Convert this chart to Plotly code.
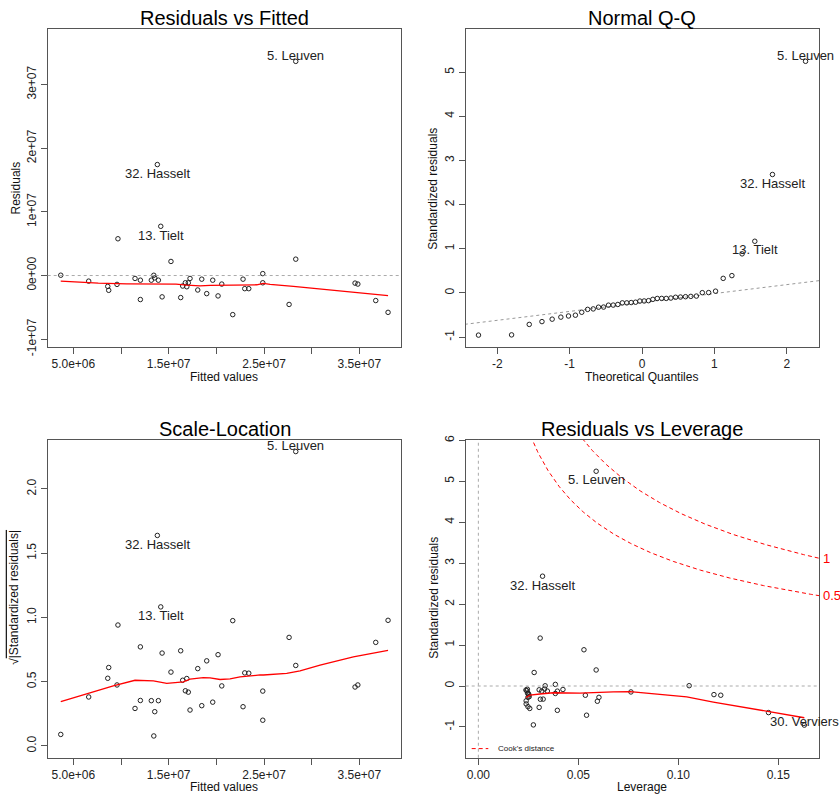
import numpy as np
import plotly.graph_objects as go
from statistics import NormalDist

W, H = 840, 809
FONT = "Liberation Sans, Arial, sans-serif"

# ---- per-observation diagnostics of the fitted model (42 municipalities) ----
fitted_values = np.array([
    3.68, 6.61, 8.61, 8.71, 9.58, 9.68, 11.47, 12.03, 12.03, 13.18,
    13.44, 13.54, 13.92, 13.81, 14.17, 14.31, 15.24, 16.26, 16.47, 16.75,
    16.90, 17.06, 17.24, 18.05, 18.47, 18.99, 19.62, 20.18, 20.57, 21.72,
    22.80, 22.98, 23.40, 24.87, 24.87, 27.63, 28.33, 28.33, 34.55, 34.84,
    36.72, 38.01]) * 1e6

residuals = np.array([
    0.05, -0.88, -1.70, -2.32, -1.39, 5.77, -0.46, -0.73, -3.77, -0.73,
    0.04, -0.37, -0.73, 17.42, 7.73, -3.35, 2.21, -3.46, -1.65, -1.14,
    -1.76, -1.14, -0.46, -2.27, -0.57, -2.84, -0.73, -3.20, -1.34, -6.14,
    -0.57, -2.06, -2.06, 0.30, -1.14, -4.54, 33.62, 2.57, -1.19, -1.34,
    -3.93, -5.78]) * 1e6

std_residuals = np.array([
    0.008, -0.145, -0.277, -0.372, -0.225, 0.885, -0.085, -0.125, -0.594, -0.124,
    0.006, -0.071, -0.124, 2.682, 1.170, -0.522, 0.330, -0.548, -0.261, -0.184,
    -0.275, -0.175, -0.078, -0.362, -0.098, -0.438, -0.116, -0.504, -0.218, -0.950,
    -0.093, -0.323, -0.320, 0.040, -0.182, -0.713, 5.245, 0.392, -0.210, -0.225,
    -0.649, -0.955])

leverage = np.array([
    0.1054, 0.0763, 0.0603, 0.0595, 0.0535, 0.0528, 0.0423, 0.0395, 0.0395, 0.0345,
    0.0334, 0.0331, 0.0317, 0.0321, 0.0309, 0.0304, 0.0279, 0.0257, 0.0254, 0.0250,
    0.0248, 0.0246, 0.0245, 0.0239, 0.0238, 0.0239, 0.0242, 0.0248, 0.0253, 0.0275,
    0.0304, 0.0310, 0.0324, 0.0385, 0.0385, 0.0541, 0.0589, 0.0589, 0.1178, 0.1212,
    0.1451, 0.1630])

case_labels = {36: "5. Leuven", 13: "32. Hasselt", 14: "13. Tielt", 41: "30. Verviers"}

# ---- lowess smoothers ----
smooth_resid_x = np.array([3.68, 5.18, 7.62, 10.58, 12.67, 15.77, 16.90, 18.29, 19.34,
                           22.84, 24.24, 24.93, 25.64, 28.08, 30.17, 31.93, 34.37,
                           36.47, 38.01]) * 1e6
smooth_resid_y = np.array([-0.88, -1.04, -1.19, -1.30, -1.30, -1.34, -1.50, -1.61, -1.55,
                           -1.55, -1.45, -1.24, -1.39, -1.70, -2.01, -2.32, -2.69,
                           -2.94, -3.15]) * 1e6

smooth_scale_x = np.array([3.68, 9.19, 11.47, 12.00, 13.40, 14.80, 16.54, 17.24, 18.63,
                           19.34, 20.39, 21.44, 22.49, 24.58, 24.93, 27.38, 28.78,
                           30.88, 34.37, 38.01]) * 1e6
smooth_scale_y = np.array([0.344, 0.468, 0.511, 0.509, 0.506, 0.486, 0.498, 0.519, 0.532,
                           0.529, 0.517, 0.521, 0.537, 0.552, 0.552, 0.565, 0.583,
                           0.628, 0.692, 0.743])

smooth_lev_x = np.array([0.0238, 0.0258, 0.0308, 0.0375, 0.0508, 0.0592, 0.0675, 0.0759,
                         0.0875, 0.1042, 0.1175, 0.1308, 0.1442, 0.1630])
smooth_lev_y = np.array([-0.28, -0.225, -0.195, -0.165, -0.172, -0.166, -0.145, -0.135,
                         -0.185, -0.264, -0.391, -0.504, -0.631, -0.775])

cook_levels = [0.5, 1.0]
n_coef = 2

# ---- derived quantities ----
n = len(std_residuals)
nd = NormalDist()
order = np.argsort(std_residuals)
probs = (np.arange(1, n + 1) - 0.5) / n
theoretical = np.empty(n)
theoretical[order] = [nd.inv_cdf(p) for p in probs]
q1, q3 = np.quantile(std_residuals, [0.25, 0.75])
t1, t3 = nd.inv_cdf(0.25), nd.inv_cdf(0.75)
qq_slope = (q3 - q1) / (t3 - t1)
qq_int = q1 - qq_slope * t1
sqrt_abs_std = np.sqrt(np.abs(std_residuals))

# ---- layout geometry ----
def px_x(v):
    return v / W

def px_y(v):
    return 1 - v / H

LEFT = [px_x(47.7), px_x(401.3)]
RIGHT = [px_x(465.7), px_x(819.0)]
TOP = [px_y(347.7), px_y(24.3)]
BOTTOM = [px_y(766.0), px_y(442.3)]

X1_RANGE = [2.311e6, 3.940e7]
Y1_RANGE = [-1.117e7, 3.872e7]
X2_RANGE = [-2.437, 2.446]
Y2_RANGE = [-1.217, 5.979]
Y3_RANGE = [-0.092, 2.383]
X4_RANGE = [-0.00633, 0.17033]
Y4_RANGE = [-1.752, 6.017]

PT = dict(symbol="circle-open", size=4.5, color="#222222", line=dict(width=1, color="#222222"))
RED = dict(color="#ff0000", width=1.3)

fig = go.Figure()

# Residuals vs Fitted
fig.add_trace(go.Scatter(x=fitted_values, y=residuals, mode="markers", marker=PT,
                         xaxis="x", yaxis="y", showlegend=False))
fig.add_trace(go.Scatter(x=smooth_resid_x, y=smooth_resid_y, mode="lines", line=RED,
                         xaxis="x", yaxis="y", showlegend=False))

# Normal Q-Q
fig.add_trace(go.Scatter(x=[X2_RANGE[0] - 1, X2_RANGE[1] + 1],
                         y=[qq_int + qq_slope * (X2_RANGE[0] - 1), qq_int + qq_slope * (X2_RANGE[1] + 1)],
                         mode="lines", line=dict(color="#999999", width=1, dash="dot"),
                         xaxis="x2", yaxis="y2", showlegend=False))
fig.add_trace(go.Scatter(x=theoretical, y=std_residuals, mode="markers", marker=PT,
                         xaxis="x2", yaxis="y2", showlegend=False))

# Scale-Location
fig.add_trace(go.Scatter(x=fitted_values, y=sqrt_abs_std, mode="markers", marker=PT,
                         xaxis="x3", yaxis="y3", showlegend=False))
fig.add_trace(go.Scatter(x=smooth_scale_x, y=smooth_scale_y, mode="lines", line=RED,
                         xaxis="x3", yaxis="y3", showlegend=False))

# Residuals vs Leverage
hh = np.linspace(leverage.min() / 100, X4_RANGE[1], 400)
for lev in cook_levels:
    cy = np.sqrt(lev * n_coef * (1 - hh) / hh)
    for sgn in (1, -1):
        fig.add_trace(go.Scatter(x=hh, y=sgn * cy, mode="lines",
                                 line=dict(color="#ff0000", width=1, dash="4px,3px"),
                                 xaxis="x4", yaxis="y4", showlegend=False))
fig.add_trace(go.Scatter(x=leverage, y=std_residuals, mode="markers", marker=PT,
                         xaxis="x4", yaxis="y4", showlegend=False))
fig.add_trace(go.Scatter(x=smooth_lev_x, y=smooth_lev_y, mode="lines", line=RED,
                         xaxis="x4", yaxis="y4", showlegend=False))

# reference lines
dot_gray = dict(color="#aaaaaa", width=1, dash="dot")
shapes = [
    dict(type="line", xref="x domain", yref="y", x0=0, x1=1, y0=0, y1=0, line=dot_gray),
    dict(type="line", xref="x4 domain", yref="y4", x0=0, x1=1, y0=0, y1=0, line=dot_gray),
    dict(type="line", xref="x4", yref="y4 domain", x0=0, x1=0, y0=0, y1=1, line=dot_gray),
    # Cook's distance legend key
    dict(type="line", xref="paper", yref="paper", x0=px_x(471.7), x1=px_x(488.3),
         y0=px_y(756.7), y1=px_y(756.7), line=dict(color="#ff0000", width=1, dash="4px,3px")),
]

annotations = []

def txt(x, y, text, size=12, xref="paper", yref="paper", angle=0, color="#111111",
        xanchor="center", yanchor="middle", xshift=0, yshift=0):
    annotations.append(dict(x=x, y=y, xref=xref, yref=yref, text=text, showarrow=False,
                            textangle=angle, xanchor=xanchor, yanchor=yanchor,
                            xshift=xshift, yshift=yshift,
                            font=dict(family=FONT, size=size, color=color)))

# panel titles
txt(px_x(224.5), px_y(13.7), "Residuals vs Fitted", size=20, color="#000000")
txt(px_x(642.4), px_y(13.7), "Normal Q-Q", size=20, color="#000000")
txt(px_x(224.5), px_y(431.7), "Scale-Location", size=20, color="#000000")
txt(px_x(642.4), px_y(431.7), "Residuals vs Leverage", size=20, color="#000000")

# axis titles
txt(px_x(224.0), px_y(378.3), "Fitted values")
txt(px_x(641.7), px_y(378.3), "Theoretical Quantiles")
txt(px_x(224.0), px_y(795.7), "Fitted values")
txt(px_x(641.7), px_y(795.7), "Leverage")
txt(px_x(16.0), px_y(186.7), "Residuals", angle=-90)
txt(px_x(433.3), px_y(186.7), "Standardized residuals", angle=-90)
txt(px_x(13.3), px_y(603.0),
    "\u221a<span style='text-decoration:overline'>|Standardized residuals|</span>", angle=-90)
txt(px_x(433.3), px_y(603.0), "Standardized residuals", angle=-90)

# case labels
LBL = 13
for i, dy in [(36, 5.7), (13, -8.7), (14, -9.0)]:
    txt(fitted_values[i], residuals[i], case_labels[i], size=LBL, xref="x", yref="y",
        yshift=dy, color="#222222")
for i, dy in [(36, 5.6), (13, -9.3), (14, -8.3)]:
    txt(theoretical[i], std_residuals[i], case_labels[i], size=LBL, xref="x2", yref="y2",
        yshift=dy, color="#222222")
for i, dy in [(36, 6.0), (13, -8.7), (14, -9.0)]:
    txt(fitted_values[i], sqrt_abs_std[i], case_labels[i], size=LBL, xref="x3", yref="y3",
        yshift=dy, color="#222222")
for i, dy in [(36, -8.3), (13, -9.0), (41, 4.0)]:
    txt(leverage[i], std_residuals[i], case_labels[i], size=LBL, xref="x4", yref="y4",
        yshift=dy, color="#222222")

# Cook's distance contour labels
for lev in cook_levels:
    yv = np.sqrt(lev * n_coef * (1 - X4_RANGE[1]) / X4_RANGE[1])
    txt(X4_RANGE[1], yv, f"{lev:g}", size=13, xref="x4", yref="y4", color="#ff0000",
        xanchor="left", xshift=1.5)
txt(px_x(495.7), px_y(756.7), "Cook's distance", size=8, xanchor="left", color="#222222")

axis_style = dict(showline=True, mirror=True, linecolor="#555555", linewidth=1,
                  ticks="outside", ticklen=6, tickwidth=1, tickcolor="#555555",
                  showgrid=False, zeroline=False,
                  tickfont=dict(family=FONT, size=12, color="#222222"))

fit_ticks = [5e6, 1e7, 1.5e7, 2e7, 2.5e7, 3e7, 3.5e7]
fit_text = ["5.0e+06", "", "1.5e+07", "", "2.5e+07", "", "3.5e+07"]

fig.update_layout(
    width=W, height=H, margin=dict(l=0, r=0, t=0, b=0),
    paper_bgcolor="white", plot_bgcolor="white", showlegend=False,
    xaxis=dict(domain=LEFT, anchor="y", range=X1_RANGE, tickvals=fit_ticks,
               ticktext=fit_text, **axis_style),
    yaxis=dict(domain=TOP, anchor="x", range=Y1_RANGE, tickangle=-90,
               tickvals=[-1e7, 0, 1e7, 2e7, 3e7],
               ticktext=["-1e+07", "0e+00", "1e+07", "2e+07", "3e+07"], **axis_style),
    xaxis2=dict(domain=RIGHT, anchor="y2", range=X2_RANGE, tickvals=[-2, -1, 0, 1, 2],
                ticktext=["-2", "-1", "0", "1", "2"], **axis_style),
    yaxis2=dict(domain=TOP, anchor="x2", range=Y2_RANGE, tickangle=-90,
                tickvals=[-1, 0, 1, 2, 3, 4, 5],
                ticktext=["-1", "0", "1", "2", "3", "4", "5"], **axis_style),
    xaxis3=dict(domain=LEFT, anchor="y3", range=X1_RANGE, tickvals=fit_ticks,
                ticktext=fit_text, **axis_style),
    yaxis3=dict(domain=BOTTOM, anchor="x3", range=Y3_RANGE, tickangle=-90,
                tickvals=[0, 0.5, 1, 1.5, 2],
                ticktext=["0.0", "0.5", "1.0", "1.5", "2.0"], **axis_style),
    xaxis4=dict(domain=RIGHT, anchor="y4", range=X4_RANGE, tickvals=[0, 0.05, 0.10, 0.15],
                ticktext=["0.00", "0.05", "0.10", "0.15"], **axis_style),
    yaxis4=dict(domain=BOTTOM, anchor="x4", range=Y4_RANGE, tickangle=-90,
                tickvals=[-1, 0, 1, 2, 3, 4, 5, 6],
                ticktext=["-1", "0", "1", "2", "3", "4", "5", "6"], **axis_style),
    shapes=shapes,
    annotations=annotations,
)

fig.write_html("out.html")
